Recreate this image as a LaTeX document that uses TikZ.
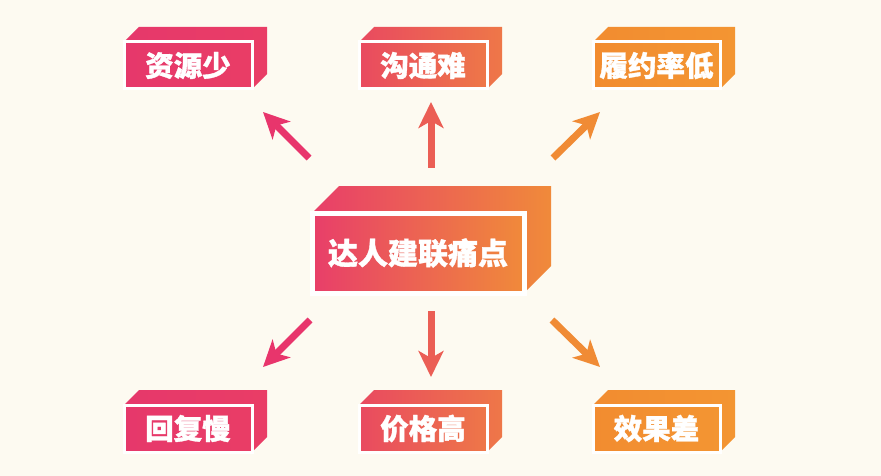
\documentclass[tikz,border=0pt]{standalone}
\usepackage{fontspec}
\newfontfamily\cjk{Noto Sans CJK SC}[BoldFeatures={FakeBold=1.2}]
\usetikzlibrary{arrows.meta}
\definecolor{bg}{HTML}{FDFAF1}
\definecolor{pinkA}{HTML}{E6386B}
\definecolor{pinkB}{HTML}{E93D66}
\definecolor{midA}{HTML}{E94A60}
\definecolor{midB}{HTML}{EE7748}
\definecolor{orA}{HTML}{F28C30}
\definecolor{orB}{HTML}{F39532}
\definecolor{cenA}{HTML}{E83E6A}
\definecolor{cenB}{HTML}{F08A3A}
\definecolor{arrP}{HTML}{E8356C}
\definecolor{arrM}{HTML}{EB5E55}
\definecolor{arrO}{HTML}{F08B35}
\tikzset{
  frontbox/.style={draw=white, inner sep=0pt, text=white, font=\cjk\bfseries},
  painarrow/.style={line width=7pt, -{Stealth[length=26pt, width=25pt, inset=7pt]}},
}
% #1 name, #2 x0, #3 y0, #4 x1, #5 y1, #6 depth, #7 left colour, #8 right colour, #9 text
\newcommand{\tribox}[9]{%
  \shade[left color=#7, right color=#8] (#2,#3) -- ++(#6,-#6) -- (#4+#6,#3-#6) -- (#4+#6,#5-#6) -- (#4,#5) -- cycle;
  \pgfmathsetmacro{\bw}{#4-#2}\pgfmathsetmacro{\bh}{#5-#3}%
  \node[frontbox, left color=#7, right color=#8, minimum width=\bw pt, minimum height=\bh pt] (#1) at ({(#2+#4)/2},{(#3+#5)/2}) {#9};
}
\begin{document}
\begin{tikzpicture}[x=1pt,y=-1pt]
\useasboundingbox (0,0) rectangle (881,476);
\fill[bg] (0,0) rectangle (881,476);

% boxes
\tikzset{frontbox/.append style={line width=3pt, font=\cjk\bfseries\fontsize{28.5}{30}\selectfont}}
\tribox{zyz}{124}{42}{252}{89}{15}{pinkA}{pinkB}{资源少}
\tribox{gtn}{359}{42}{487}{89}{15}{midA}{midB}{沟通难}
\tribox{lyl}{593}{42}{720}{89}{15}{orA}{orB}{履约率低}
\tribox{hfm}{124}{405}{252}{452}{15}{pinkA}{pinkB}{回复慢}
\tribox{jgg}{359}{405}{487}{452}{15}{midA}{midB}{价格高}
\tribox{xgc}{593}{405}{720}{452}{15}{orA}{orB}{效果差}
\tikzset{frontbox/.append style={line width=5pt, font=\cjk\bfseries\fontsize{30}{32}\selectfont}}
\tribox{drtd}{312}{213}{524}{293}{27}{cenA}{cenB}{达人建联痛点}

% arrow end points
\coordinate (t1) at (309,158); \coordinate (h1) at (263,112);
\coordinate (t2) at (431,168); \coordinate (h2) at (431,102);
\coordinate (t3) at (553,158); \coordinate (h3) at (600,112);
\coordinate (t4) at (310,320); \coordinate (h4) at (263,367);
\coordinate (t5) at (431,311); \coordinate (h5) at (431,377);
\coordinate (t6) at (552,320); \coordinate (h6) at (600,367);

\draw[painarrow, arrP] (t1) -- (h1);
\draw[painarrow, arrM] (t2) -- (h2);
\draw[painarrow, arrO] (t3) -- (h3);
\draw[painarrow, arrP] (t4) -- (h4);
\draw[painarrow, arrM] (t5) -- (h5);
\draw[painarrow, arrO] (t6) -- (h6);
\end{tikzpicture}
\end{document}
